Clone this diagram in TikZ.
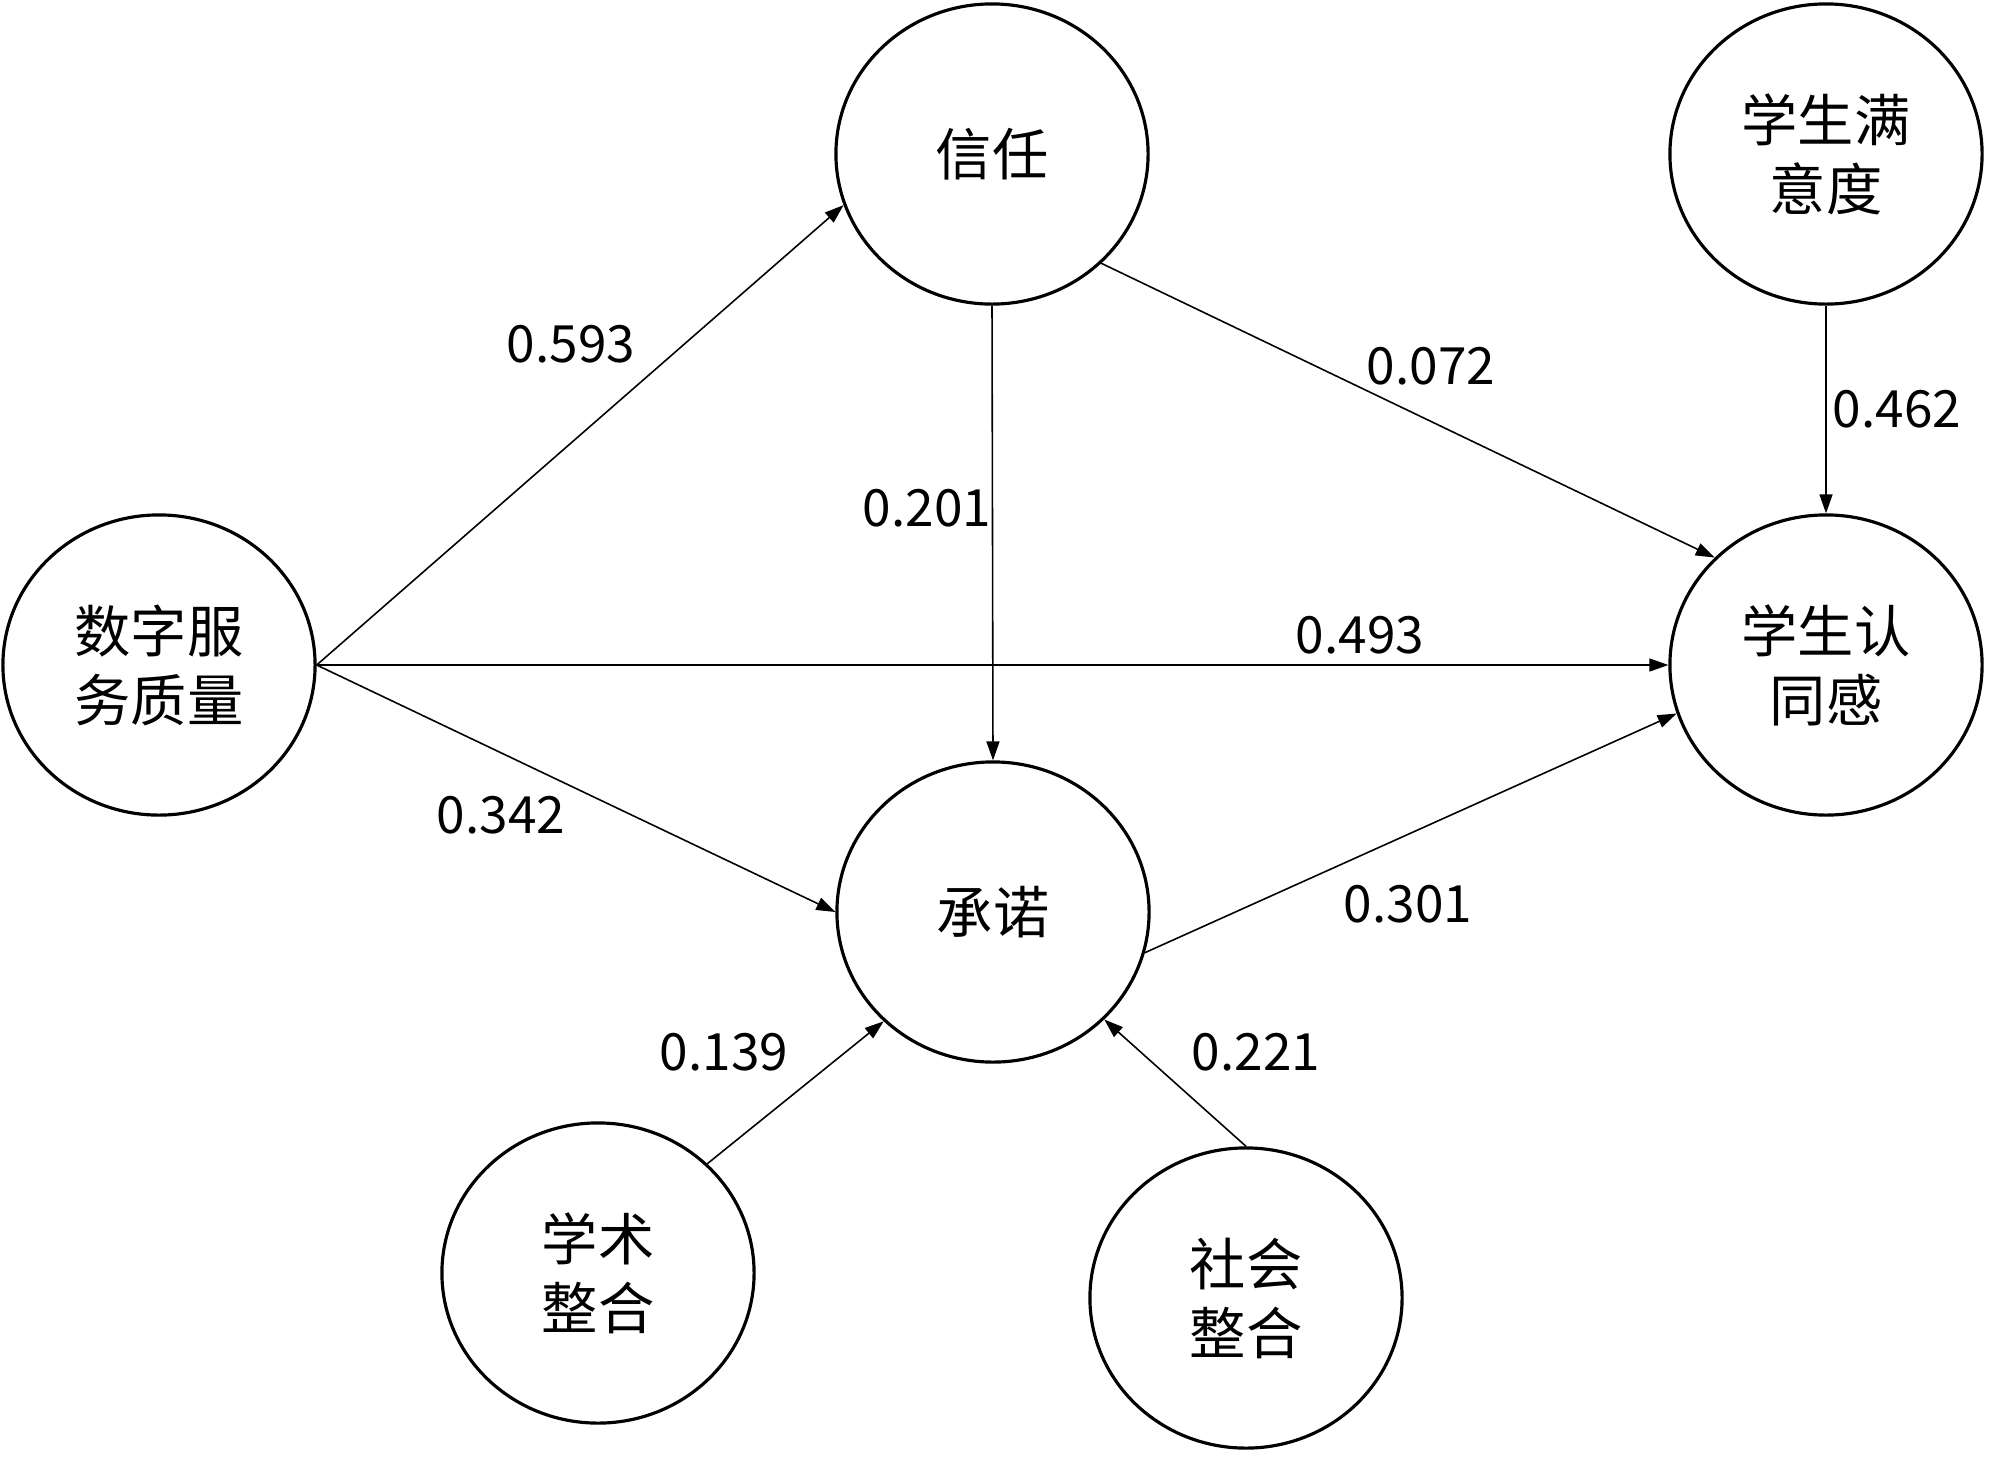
\documentclass[tikz,border=0pt]{standalone}
\usepackage{fontspec}
\setmainfont{Noto Sans CJK SC}
\usetikzlibrary{shapes.geometric,arrows.meta}
\begin{document}
\begin{tikzpicture}[x=0.01cm,y=-0.01cm,
  var/.style={ellipse,draw,line width=0.9pt,inner sep=0pt,minimum width=3.12cm,minimum height=3.0cm,align=center,font=\fontsize{16pt}{19.6pt}\selectfont},
  lab/.style={inner sep=0pt,font=\fontsize{14.6pt}{18pt}\selectfont},
  edge/.style={line width=0.45pt,-{Triangle[length=0.19cm,width=0.13cm]}}]
\useasboundingbox (0,0) rectangle (2000,1457);
\node[var] (xr) at (992,154) {信任};
\node[var] (my) at (1826,154) {学生满\\意度};
\node[var] (sz) at (159,665) {数字服\\务质量};
\node[var] (rt) at (1826,665) {学生认\\同感};
\node[var] (cn) at (993,912) {承诺};
\node[var] (xs) at (598,1273) {学术\\整合};
\node[var] (sh) at (1246,1298) {社会\\整合};
\draw[edge] (sz.east) -- (xr.199);
\draw[edge] (sz.east) -- (cn.west);
\draw[edge] (sz.east) -- (rt.west);
\draw[edge] (xr.-45) -- (rt.136);
\draw[edge] (xr.south) -- (cn.north);
\draw[edge] (my.south) -- (rt.north);
\draw[edge] (cn.-15) -- (rt.-162.5);
\draw[edge] (xs.45) -- (cn.225);
\draw[edge] (sh.north) -- (cn.316);
\node[lab] (l1) at (571,344) {0.593};
\node[lab] (l2) at (1431,366) {0.072};
\node[lab] (l3) at (1897,409) {0.462};
\node[lab] (l4) at (927,508) {0.201};
\node[lab] (l5) at (1360,635) {0.493};
\node[lab] (l6) at (501,815) {0.342};
\node[lab] (l7) at (1408,904) {0.301};
\node[lab] (l8) at (724,1052) {0.139};
\node[lab] (l9) at (1256,1052) {0.221};
\end{tikzpicture}
\end{document}
